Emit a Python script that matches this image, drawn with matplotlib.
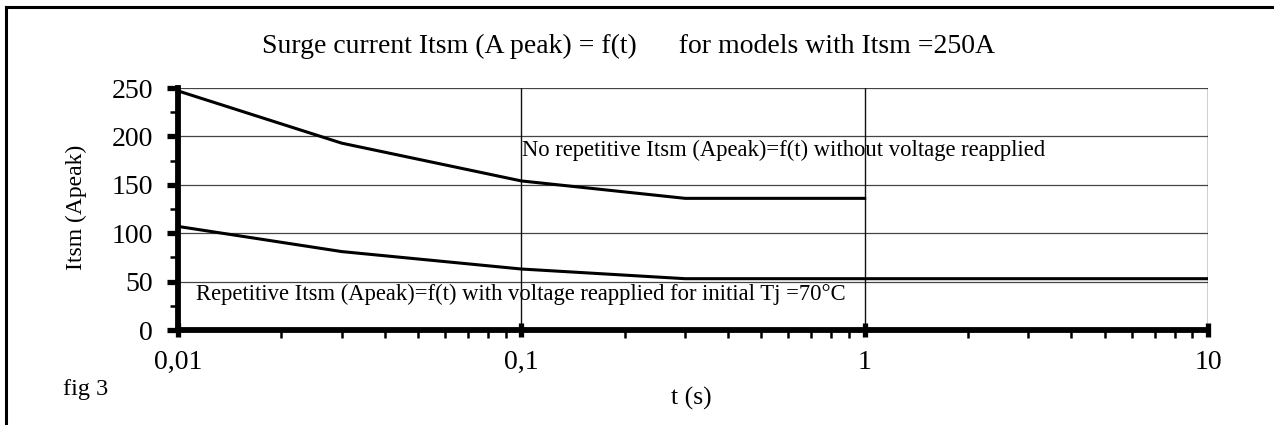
import matplotlib
matplotlib.use("Agg")
import matplotlib.pyplot as plt
from matplotlib.lines import Line2D
from matplotlib.ticker import FixedLocator, NullFormatter, LogLocator

plt.rcParams['font.family'] = ['Liberation Serif', 'DejaVu Serif']

# Data
t_no_rep = [0.01, 0.03, 0.1, 0.3, 1.0]
i_no_rep = [247, 193, 154, 136, 136]
t_rep = [0.01, 0.03, 0.1, 0.3, 1.0, 10.0]
i_rep = [107, 81, 63, 53, 53, 53]
x_ticks = [0.01, 0.1, 1, 10]
x_tick_labels = ["0,01", "0,1", "1", "10"]
y_ticks = [0, 50, 100, 150, 200, 250]
y_minor = [25, 75, 125, 175, 225]

fig = plt.figure(figsize=(12.74, 4.25), dpi=100)
ax = fig.add_axes([178/1274, 1-330/425, (1208-178)/1274, (330-88)/425])

ax.set_xscale('log')
ax.set_xlim(0.01, 10)
ax.set_ylim(0, 250)

# grid
for y in y_ticks[1:]:
    ax.axhline(y, color='#444444', lw=0.9, zorder=1)
for x in x_ticks[1:]:
    ax.axvline(x, color='#111111', lw=1.0, zorder=1)

ax.plot(t_no_rep, i_no_rep, color='black', lw=2.2, zorder=3)
ax.plot(t_rep, i_rep, color='black', lw=2.2, zorder=3)

for s in ['top', 'right']:
    ax.spines[s].set_visible(False)
for s in ['left', 'bottom']:
    ax.spines[s].set_linewidth(4.2)
    ax.spines[s].set_capstyle('projecting')

ax.set_yticks(y_ticks)
ax.set_yticklabels([str(v) for v in y_ticks], fontsize=20)
ax.yaxis.set_minor_locator(FixedLocator(y_minor))
ax.tick_params(axis='y', which='major', length=8, width=3.8, direction='out', pad=10)
ax.tick_params(axis='y', which='minor', length=6, width=1.8, direction='out')

ax.set_xticks(x_ticks)
ax.set_xticklabels(x_tick_labels, fontsize=20)
ax.xaxis.set_minor_locator(LogLocator(base=10, subs=range(2, 10)))
ax.xaxis.set_minor_formatter(NullFormatter())
ax.tick_params(axis='x', which='major', length=10, width=3.8, direction='inout', pad=9.5)
ax.tick_params(axis='x', which='minor', length=6, width=1.8, direction='out')

fig.text(76/1274, 1-207/425, "Itsm (Apeak)", fontsize=17, rotation=90,
         ha='center', va='center')

ax.text(0.1005, 186, "No repetitive Itsm (Apeak)=f(t) without voltage reapplied",
        fontsize=16.3, va='center', ha='left', zorder=4)
ax.text(0.0113, 37, "Repetitive Itsm (Apeak)=f(t) with voltage reapplied for initial Tj =70\u00b0C",
        fontsize=16.3, va='center', ha='left', zorder=4)

fig.text(628/1274, 1-46/425, "Surge current Itsm (A peak) = f(t)      for models with Itsm =250A",
         fontsize=20, ha='center', va='center')
fig.text(63/1274, 1-389/425, "fig 3", fontsize=17.5, ha='left', va='center')
fig.text(691/1274, 1-398/425, "t (s)", fontsize=18.5, ha='center', va='center')

# page border (top and left)
fig.add_artist(Line2D([6/1274, 1.0], [1-7/425, 1-7/425], transform=fig.transFigure, color='black', lw=2.2))
fig.add_artist(Line2D([6/1274, 6/1274], [0, 1-7/425], transform=fig.transFigure, color='black', lw=2.2))

fig.savefig("out.png", dpi=100)
